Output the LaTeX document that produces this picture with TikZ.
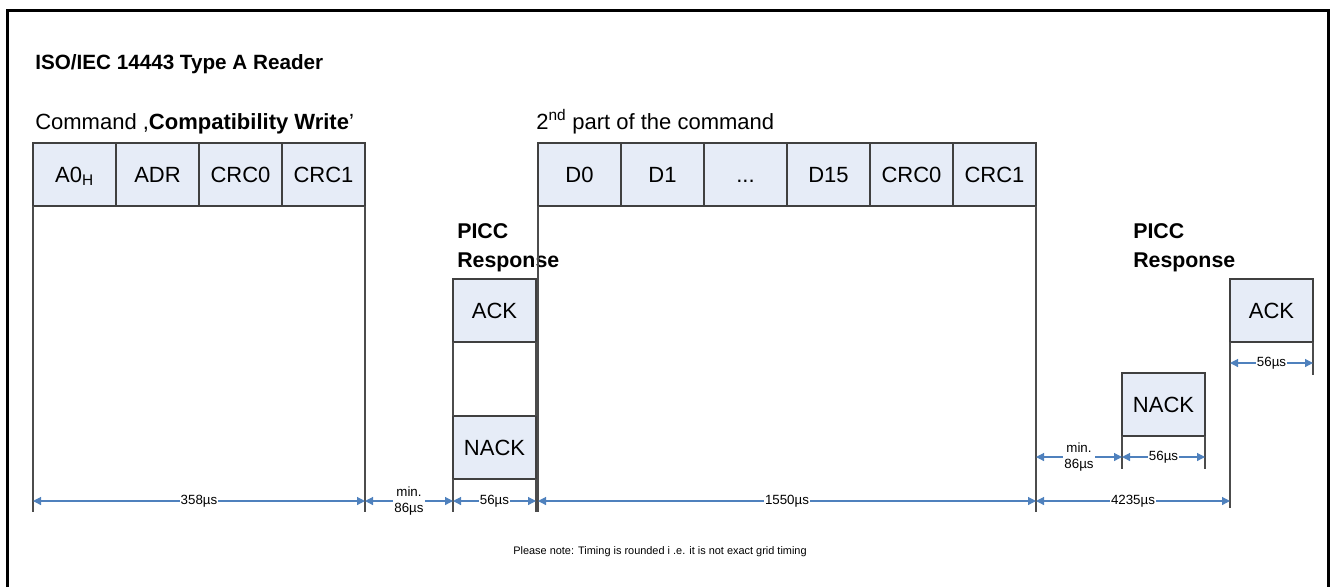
\documentclass[tikz,border=0pt]{standalone}
\usepackage{fontspec}
\setmainfont{Liberation Sans}
\usepackage{xcolor}
\usepackage{tikz}
\usetikzlibrary{arrows.meta, positioning}
\definecolor{fieldblue}{RGB}{230,236,247}
\definecolor{dimblue}{RGB}{79,129,189}
\tikzset{
    field/.style={draw=black!75, fill=fieldblue, line width=0.9pt, minimum width=62.25pt, minimum height=47.25pt, inner sep=0pt, outer sep=0pt, text height=11.8pt, text depth=0pt, font=\fontsize{16.5}{20}\selectfont},
    drop/.style={draw=black!70, line width=0.8pt},
    dim/.style={dimblue, line width=0.9pt, {Triangle[length=6pt,width=6pt]}-{Triangle[length=6pt,width=6pt]}},
    dimlabel/.style={fill=white, inner sep=0.8pt, font=\fontsize{10}{12}\selectfont, align=center, text=black},
    heading/.style={font=\fontsize{16.5}{20}\selectfont, inner sep=0pt, anchor=base west},
    response/.style={font=\bfseries\fontsize{16}{20}\selectfont, inner sep=0pt, anchor=base west}
}

\begin{document}
\begin{tikzpicture}[x=0.75pt, y=-0.75pt]
    \useasboundingbox (0,0) rectangle (1331,587);

    % Outer frame (bottom edge lies below the picture)
    \draw[line width=2.25pt] (7.5,587) -- (7.5,10) -- (1328.5,10) -- (1328.5,587);

    % Headings
    \node[heading, font=\bfseries\fontsize{15.5}{20}\selectfont] (title) at (35,69) {ISO/IEC 14443 Type A Reader};
    \node[heading] (cmd) at (35,129) {Command ,\textbf{Compatibility Write}'};
    \node[heading] (second) at (536,129) {2\textsuperscript{nd} part of the command};

    % Command fields
    \node[field] (a0) at (74.5,174.5) {A0\textsubscript{H}};
    \node[field, right=0pt of a0] (adr) {ADR};
    \node[field, right=0pt of adr] (crc0) {CRC0};
    \node[field, right=0pt of crc0] (crc1) {CRC1};

    % Second part fields
    \node[field] (d0) at (579.5,174.5) {D0};
    \node[field, right=0pt of d0] (d1) {D1};
    \node[field, right=0pt of d1] (dots) {...};
    \node[field, right=0pt of dots] (d15) {D15};
    \node[field, right=0pt of d15] (crc0b) {CRC0};
    \node[field, right=0pt of crc0b] (crc1b) {CRC1};

    % First PICC response
    \node[response] (piccA) at (457,238) {PICC};
    \node[response] (respA) at (457,267) {Response};
    \node[field] (ack) at (494.5,310.5) {ACK};
    \node[field] (nack) at (494.5,447.5) {NACK};

    % Second PICC response
    \node[response] (piccB) at (1133,238) {PICC};
    \node[response] (respB) at (1133,267) {Response};
    \node[field] (nackB) at (1163.5,404.5) {NACK};
    \node[field] (ackB) at (1271.5,310.5) {ACK};

    % Line ends and arrow rows
    \coordinate (floor) at (0,512);
    \coordinate (floorack) at (0,508);
    \coordinate (floornack) at (0,469);
    \coordinate (floorshort) at (0,375);
    \coordinate (row) at (0,501);
    \coordinate (rownack) at (0,457);
    \coordinate (rowack) at (0,363);

    % Drop lines
    \draw[drop] (a0.south west) -- (a0.south west |- floor);
    \draw[drop] (crc1.south east) -- (crc1.south east |- floor);
    \draw[drop] (ack.south west) -- (nack.north west);
    \draw[drop] (ack.south east) -- (nack.north east);
    \draw[drop] (nack.south west) -- (nack.south west |- floor);
    \draw[drop] (nack.south east) -- (nack.south east |- floor);
    \draw[drop] (d0.south west) -- (d0.south west |- floor);
    \draw[drop] (crc1b.south east) -- (crc1b.south east |- floor);
    \draw[drop] (nackB.south west) -- (nackB.south west |- floornack);
    \draw[drop] (nackB.south east) -- (nackB.south east |- floornack);
    \draw[drop] (ackB.south west) -- (ackB.south west |- floorack);
    \draw[drop] (ackB.south east) -- (ackB.south east |- floorshort);

    % Timing arrows
    \draw[dim] (a0.south west |- row) -- (crc1.south east |- row) node[dimlabel, midway] {358µs};
    \draw[dim] (crc1.south east |- row) -- (nack.south west |- row) node[dimlabel, midway] {min.\\86µs};
    \draw[dim] (nack.south west |- row) -- (nack.south east |- row) node[dimlabel, midway] {56µs};
    \draw[dim] (d0.south west |- row) -- (crc1b.south east |- row) node[dimlabel, midway] {1550µs};
    \draw[dim] (crc1b.south east |- row) -- (ackB.south west |- row) node[dimlabel, midway] {4235µs};
    \draw[dim] (crc1b.south east |- rownack) -- (nackB.south west |- rownack) node[dimlabel, midway] {min.\\86µs};
    \draw[dim] (nackB.south west |- rownack) -- (nackB.south east |- rownack) node[dimlabel, midway] {56µs};
    \draw[dim] (ackB.south west |- rowack) -- (ackB.south east |- rowack) node[dimlabel, midway] {56µs};

    % Footnote
    \node[font=\fontsize{8.2}{10}\selectfont] (note) at (660,552) {Please note: Timing is rounded i .e. it is not exact grid timing};
\end{tikzpicture}
\end{document}
